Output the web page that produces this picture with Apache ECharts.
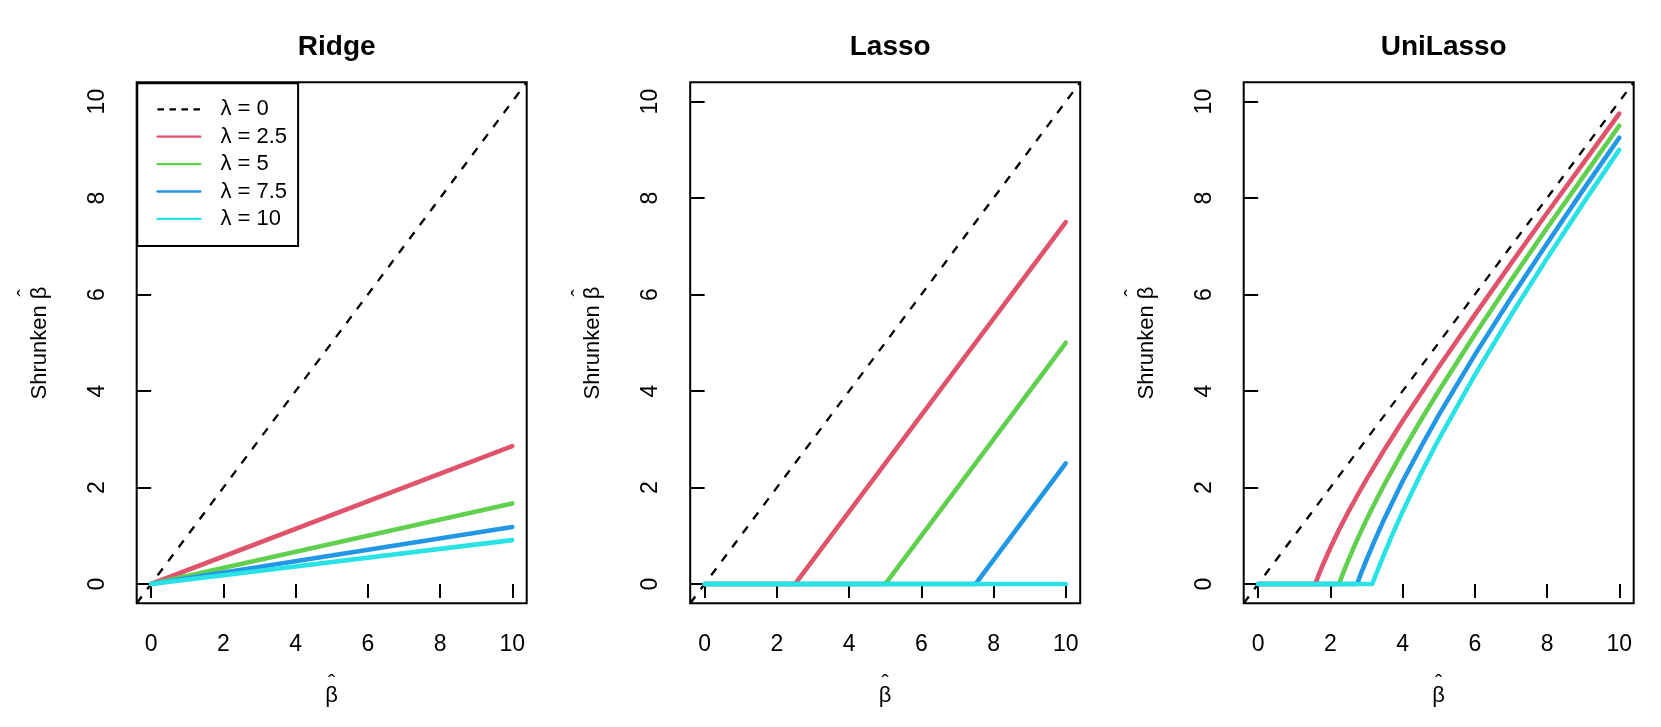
<!DOCTYPE html>
<html lang="en">
<head>
	<meta charset="UTF-8">
	<title>Ridge / Lasso / UniLasso</title>
	<script src="https://cdn.jsdelivr.net/npm/echarts@6/dist/echarts.min.js"></script>
	<style>
		html, body { margin: 0; padding: 0; background: #fff; }
	</style>
</head>
<body>
	<div id="main" style="width: 1661px;height: 727px;"></div>
	<script>
		// values
		var panelTitles = ['Ridge', 'Lasso', 'UniLasso'];
		var lambdaNames = ['λ = 0', 'λ = 2.5', 'λ = 5', 'λ = 7.5', 'λ = 10'];
		var lineColors = ['#000000', '#DF536B', '#61D04F', '#2297E6', '#28E2E5'];
		var xTicks = [0, 2, 4, 6, 8, 10];
		var yTicks = [0, 2, 4, 6, 8, 10];
		var diagonal = [[-0.4, -0.4], [10.4, 10.4]];

		var ridgeRed   = [[0, 0], [10, 2.86]];
		var ridgeGreen = [[0, 0], [10, 1.67]];
		var ridgeBlue  = [[0, 0], [10, 1.18]];
		var ridgeCyan  = [[0, 0], [10, 0.91]];

		var lassoRed   = [[0, 0], [2.5, 0], [10, 7.5]];
		var lassoGreen = [[0, 0], [5, 0], [10, 5]];
		var lassoBlue  = [[0, 0], [7.5, 0], [10, 2.5]];
		var lassoCyan  = [[0, 0], [10, 0]];

		var uniRed   = [[0, 0], [1.58, 0], [1.7, 0.23], [1.8, 0.41], [1.9, 0.58], [2, 0.75], [2.25, 1.14], [2.5, 1.5], [2.75, 1.84],
			[3, 2.17], [3.5, 2.79], [4, 3.38], [4.5, 3.94], [5, 4.5], [6, 5.58], [7, 6.64], [8, 7.69], [9, 8.72], [10, 9.75]];
		var uniGreen = [[0, 0], [2.24, 0], [2.35, 0.22], [2.5, 0.5], [2.75, 0.93], [3, 1.33], [3.25, 1.71], [3.5, 2.07], [4, 2.75],
			[4.5, 3.39], [5, 4], [6, 5.17], [7, 6.29], [8, 7.38], [9, 8.44], [10, 9.5]];
		var uniBlue  = [[0, 0], [2.74, 0], [2.85, 0.22], [3, 0.5], [3.25, 0.94], [3.5, 1.36], [4, 2.13], [4.5, 2.83], [5, 3.5],
			[6, 4.75], [7, 5.93], [8, 7.06], [9, 8.17], [10, 9.25]];
		var uniCyan  = [[0, 0], [3.16, 0], [3.3, 0.27], [3.5, 0.64], [3.75, 1.08], [4, 1.5], [4.5, 2.28], [5, 3],
			[6, 4.33], [7, 5.57], [8, 6.75], [9, 7.89], [10, 9]];

		var panelData = [
			[ridgeRed, ridgeGreen, ridgeBlue, ridgeCyan],
			[lassoRed, lassoGreen, lassoBlue, lassoCyan],
			[uniRed, uniGreen, uniBlue, uniCyan]
		];

		var font = '"Liberation Sans", Arial, Helvetica, sans-serif';
		var gridLefts = [136.7, 690.2, 1243.7];
		var gridWidth = 390, gridTop = 82.3, gridHeight = 521;

		var myChart = echarts.init(document.getElementById('main'), null, {renderer: 'canvas'});

		var grids = [], xAxes = [], yAxes = [], titles = [], series = [];

		for (var p = 0; p < 3; p++) {
			grids.push({
				left: gridLefts[p], top: gridTop, width: gridWidth, height: gridHeight,
				show: true, borderColor: '#000', borderWidth: 2, backgroundColor: 'transparent'
			});
			titles.push({
				text: panelTitles[p],
				left: gridLefts[p] + gridWidth / 2,
				top: 28,
				textAlign: 'center',
				textStyle: {fontFamily: font, fontSize: 28, fontWeight: 'bold', color: '#000'}
			});
			xAxes.push({
				type: 'value', gridIndex: p, min: -0.4, max: 10.4,
				axisLine: {show: false},
				splitLine: {show: false},
				axisTick: {show: true, length: 14, customValues: xTicks, lineStyle: {color: '#000', width: 2}},
				axisLabel: {customValues: xTicks, fontFamily: font, fontSize: 23, color: '#000', margin: 30},
				name: '{h|ˆ}\n{b|β}',
				nameLocation: 'middle',
				nameGap: 80,
				nameTextStyle: {
					fontFamily: font, color: '#000',
					rich: {
						h: {fontFamily: font, fontSize: 22, lineHeight: 1, color: '#000'},
						b: {fontFamily: font, fontSize: 22, lineHeight: 24, color: '#000'}
					}
				}
			});
			yAxes.push({
				type: 'value', gridIndex: p, min: -0.4, max: 10.4,
				axisLine: {show: false},
				splitLine: {show: false},
				axisTick: {show: true, length: 14, customValues: yTicks, lineStyle: {color: '#000', width: 2}},
				axisLabel: {customValues: yTicks, rotate: 90, fontFamily: font, fontSize: 23, color: '#000', margin: 28},
				name: '{pad| }{h|ˆ}\n{s|Shrunken }{b|β}',
				nameLocation: 'middle',
				nameGap: 85,
				nameTextStyle: {
					fontFamily: font, color: '#000',
					rich: {
						pad: {fontFamily: font, fontSize: 22, width: 100, lineHeight: 1},
						h: {fontFamily: font, fontSize: 22, width: 13, align: 'center', lineHeight: 1, color: '#000'},
						s: {fontFamily: font, fontSize: 22, width: 100, lineHeight: 24, color: '#000'},
						b: {fontFamily: font, fontSize: 22, width: 13, align: 'center', lineHeight: 24, color: '#000'}
					}
				}
			});

			series.push({
				name: lambdaNames[0], type: 'line', xAxisIndex: p, yAxisIndex: p,
				data: diagonal, symbol: 'none', silent: true,
				lineStyle: {color: lineColors[0], width: 2.3, type: [8.5, 9]}
			});
			for (var k = 0; k < 4; k++) {
				series.push({
					name: lambdaNames[k + 1], type: 'line', xAxisIndex: p, yAxisIndex: p,
					data: panelData[p][k], symbol: 'none', silent: true,
					lineStyle: {color: lineColors[k + 1], width: 4.6, cap: 'round', join: 'round'}
				});
			}
		}

		var legendData = lambdaNames.map(function (n, i) {
			var item = {name: n};
			if (i === 0) item.lineStyle = {type: [6.5, 5.5]};
			return item;
		});

		myChart.setOption({
			animation: false,
			color: lineColors,
			title: titles,
			grid: grids,
			xAxis: xAxes,
			yAxis: yAxes,
			legend: {
				data: legendData,
				orient: 'vertical',
				left: 137.3, top: 83.3,
				itemWidth: 43, itemHeight: 14, itemGap: 5.4,
				padding: [15, 11, 16, 19],
				borderColor: '#000', borderWidth: 2, backgroundColor: '#fff',
				itemStyle: {opacity: 0, borderWidth: 0},
				lineStyle: {width: 2.3, opacity: 1},
				selectedMode: false,
				textStyle: {fontFamily: font, fontSize: 22, lineHeight: 22, color: '#000', padding: [0, 0, 0, 15]}
			},
			series: series
		});
	</script>
</body>
</html>
